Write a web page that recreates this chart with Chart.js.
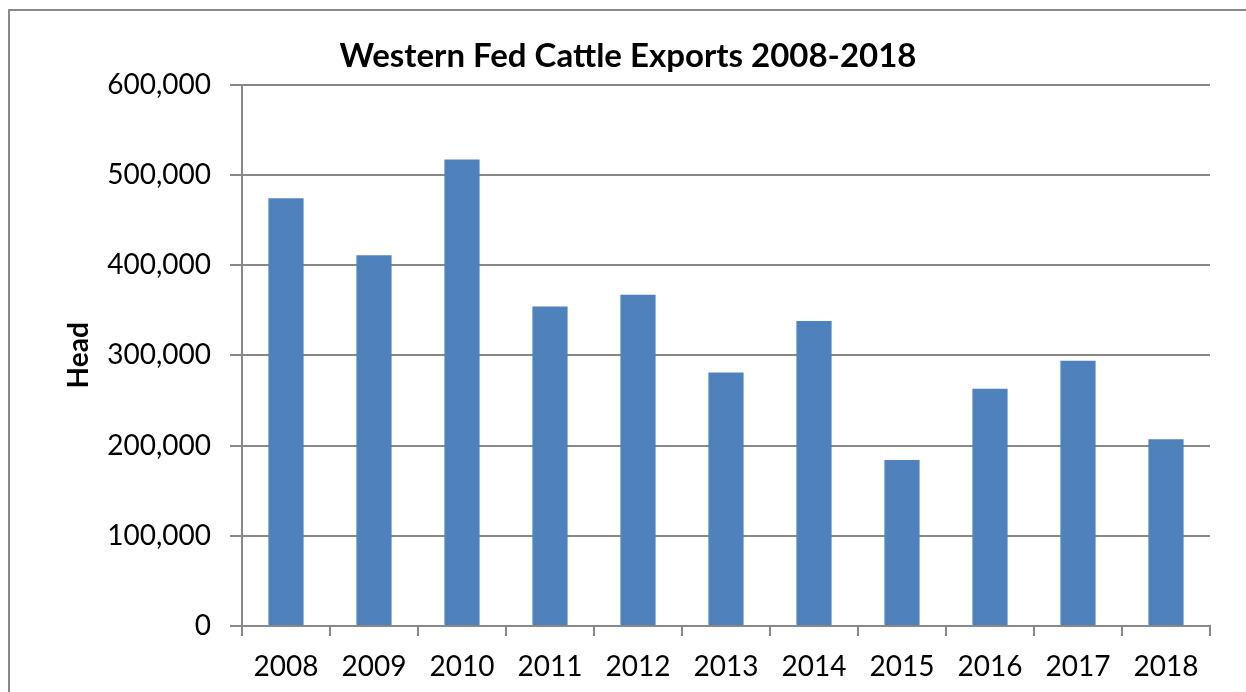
<!DOCTYPE html>
<html>
<head>
<meta charset="utf-8">
<script src="https://cdn.jsdelivr.net/npm/chart.js@4.4.0/dist/chart.umd.min.js"></script>
<style>
  body { margin: 0; background: #fff; }
  canvas { display: block; }
</style>
</head>
<body>
<canvas id="exportChart" width="1246" height="692"></canvas>
<script>
// chart data
var years = ['2008', '2009', '2010', '2011', '2012', '2013', '2014', '2015', '2016', '2017', '2018'];
var headCount = [474000, 411000, 517000, 354000, 367000, 281000, 338000, 184000, 263000, 294000, 207000];
var yTicks = [0, 100000, 200000, 300000, 400000, 500000, 600000];

var gridGrey = '#888888';

// grey frame round the whole chart (runs off the right and bottom edges)
var frame = {
    id: 'frame',
    beforeDraw: function(chart) {
        var ctx = chart.ctx;
        ctx.save();
        ctx.strokeStyle = gridGrey;
        ctx.lineWidth = 2;
        ctx.strokeRect(9, 10, 1400, 900);
        ctx.restore();
    }
};

var ctx = document.getElementById('exportChart').getContext('2d');
var myChart = new Chart(ctx, {
    type: 'bar',
    data: {
        labels: years,
        datasets: [{
            label: 'Head',
            data: headCount,
            backgroundColor: '#4F81BD',
            borderWidth: 0,
            barPercentage: 0.4,
            categoryPercentage: 1,
        }],
    },
    options: {
        responsive: false,
        animation: false,
        layout: {
            padding: { left: 46, right: 36, top: 0, bottom: 0 },
        },
        plugins: {
            legend: { display: false },
            tooltip: { enabled: false },
            title: {
                display: true,
                text: 'Western Fed Cattle Exports 2008-2018',
                color: '#000',
                font: { family: 'Lato', size: 33, weight: 'bold', lineHeight: 1.2 },
                padding: { top: 37, bottom: 8 },
            },
        },
        scales: {
            x: {
                afterFit: function(scale) { scale.height = 66; },
                grid: {
                    drawOnChartArea: false,
                    drawTicks: true,
                    tickLength: 10,
                    color: gridGrey,
                    lineWidth: 2,
                },
                border: { display: true, color: gridGrey, width: 2 },
                ticks: {
                    color: '#000',
                    padding: 14,
                    maxRotation: 0,
                    font: { family: 'Lato', size: 28 },
                },
            },
            y: {
                min: 0,
                max: 600000,
                afterFit: function(scale) { scale.width = 196; },
                afterBuildTicks: function(scale) {
                    scale.ticks = yTicks.map(function(v) { return { value: v }; });
                },
                grid: {
                    drawTicks: true,
                    tickLength: 12,
                    color: gridGrey,
                    lineWidth: 2,
                },
                border: { display: true, color: gridGrey, width: 2 },
                ticks: {
                    color: '#000',
                    padding: 19,
                    font: { family: 'Lato', size: 28 },
                    callback: function(value) { return value.toLocaleString('en-US'); },
                },
                title: {
                    display: true,
                    text: 'Head',
                    color: '#000',
                    font: { family: 'Lato', size: 28, weight: 'bold', lineHeight: 1.2 },
                    padding: { top: 16, bottom: 0 },
                },
            },
        },
    },
    plugins: [frame],
});
</script>
</body>
</html>
